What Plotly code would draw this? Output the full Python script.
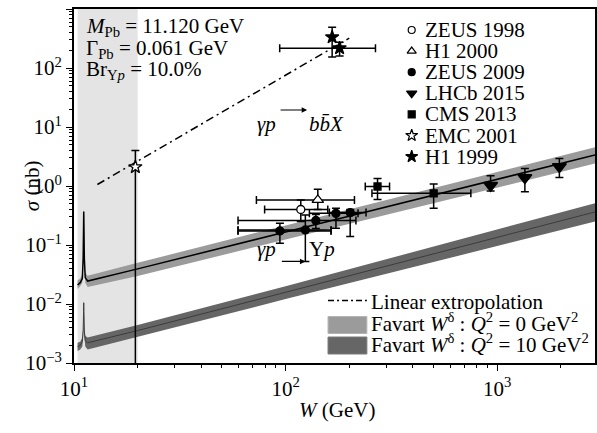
import math
import plotly.graph_objects as go

# ---------------- data ----------------
zeus1998_W = [118]
zeus1998_sigma = [0.40]
zeus1998_sigma_lo = [0.25]
zeus1998_sigma_hi = [0.58]
zeus1998_W_lo = [79.6]
zeus1998_W_hi = [158.3]

h1_2000_W = [142]
h1_2000_sigma = [0.58]
h1_2000_sigma_lo = [0.40]
h1_2000_sigma_hi = [0.88]
h1_2000_W_lo = [72.8]
h1_2000_W_hi = [211.6]

zeus2009_W = [94, 124, 139, 173, 202]
zeus2009_sigma = [0.173, 0.18, 0.26, 0.344, 0.354]
zeus2009_sigma_lo = [0.107, 0.0526, 0.19, 0.193, 0.139]
zeus2009_sigma_hi = [0.234, 0.322, 0.33, 0.42, 0.40]
zeus2009_W_lo = [59.6, 59.6, 59.6, 129.6, 161]
zeus2009_W_hi = [164, 164, 215, 220, 240]

lhcb2015_W = [931, 1352, 1968]
lhcb2015_sigma = [1.02, 1.38, 2.12]
lhcb2015_sigma_lo = [0.82, 0.80, 1.40]
lhcb2015_sigma_hi = [1.49, 1.98, 2.92]

cms2013_W = [272, 501]
cms2013_sigma = [0.98, 0.75]
cms2013_sigma_lo = [0.59, 0.42]
cms2013_sigma_hi = [1.34, 1.08]
cms2013_W_lo = [238, 256]
cms2013_W_hi = [310, 751]

emc2001_W = [19.5]
emc2001_sigma = [2.1]
emc2001_sigma_lo = [0.0001]
emc2001_sigma_hi = [4.0]

h1_1999a_W = [166]
h1_1999a_sigma = [333]
h1_1999a_sigma_lo = [153]
h1_1999a_sigma_hi = [491]

h1_1999b_W = [180]
h1_1999b_sigma = [217]
h1_1999b_sigma_lo = [159]
h1_1999b_sigma_hi = [274]
h1_1999b_W_lo = [93.8]
h1_1999b_W_hi = [266]

extrap_W = [12.9, 200]
extrap_sigma = [1.06, 320]

# Favart W^delta curves (incl. P_b resonance near threshold)
curve_W = [10.4, 10.7, 10.95, 11.05, 11.10, 11.12, 11.14, 11.19, 11.3, 11.6, 20, 100, 2900]
q0_center = [0.021, 0.023, 0.027, 0.06, 0.22, 0.37, 0.22, 0.06, 0.028, 0.0245, 0.0394, 0.166, 3.36]
q0_upper = [0.025, 0.027, 0.032, 0.07, 0.26, 0.43, 0.26, 0.07, 0.034, 0.030, 0.050, 0.215, 4.55]
q0_lower = [0.018, 0.020, 0.023, 0.05, 0.18, 0.31, 0.18, 0.05, 0.023, 0.0195, 0.0298, 0.124, 2.40]

q10_center = [0.0019, 0.0020, 0.0023, 0.0035, 0.0075, 0.0105, 0.0075, 0.0035, 0.0024, 0.0022, 0.00355, 0.0158, 0.363]
q10_upper = [0.0022, 0.0023, 0.0027, 0.0041, 0.0085, 0.0120, 0.0085, 0.0041, 0.0029, 0.0027, 0.0044, 0.0200, 0.51]
q10_lower = [0.0016, 0.0017, 0.0019, 0.0029, 0.0065, 0.0090, 0.0065, 0.0029, 0.0019, 0.0017, 0.0028, 0.0121, 0.25]

shade_W = [10.4, 20.0]

y_ticks = [1e-3, 1e-2, 1e-1, 1e0, 1e1, 1e2, 1e3]
y_ticktext = ["10<sup>\u22123</sup>", "10<sup>\u22122</sup>", "10<sup>\u22121</sup>", "10<sup>0</sup>",
              "10<sup>1</sup>", "10<sup>2</sup>", "10<sup>3</sup>"]
x_ticks = [10, 100, 1000]
x_ticktext = ["10<sup>1</sup>", "10<sup>2</sup>", "10<sup>3</sup>"]

legend_names = ["ZEUS 1998", "H1 2000", "ZEUS 2009", "LHCb 2015", "CMS 2013", "EMC 2001", "H1 1999"]

# ---------------- layout geometry ----------------
FIG_W, FIG_H = 597, 433
L, R, T, B = 74, 597, 9, 363
FONT = "Liberation Serif"


def px(x):
    return (x - L) / (R - L)


def py(y):
    return (B - y) / (B - T)


def errs(v, lo, hi):
    return [h - a for a, h in zip(v, hi)], [a - l for a, l in zip(v, lo)]


fig = go.Figure()

# shaded threshold region
fig.add_trace(go.Scatter(
    x=[shade_W[0], shade_W[1], shade_W[1], shade_W[0], shade_W[0]],
    y=[1e-3, 1e-3, 1e3, 1e3, 1e-3], mode="lines", fill="toself",
    fillcolor="#e4e4e4", line=dict(width=0), hoverinfo="skip", showlegend=False))

# bands
for up, lo, cen, fcol, lcol, lw in [
    (q10_upper, q10_lower, q10_center, "#666666", "#3c3c3c", 1.0),
    (q0_upper, q0_lower, q0_center, "#9b9b9b", "#000000", 1.5),
]:
    fig.add_trace(go.Scatter(x=curve_W, y=up, mode="lines", line=dict(width=0),
                             showlegend=False, hoverinfo="skip"))
    fig.add_trace(go.Scatter(x=curve_W, y=lo, mode="lines", line=dict(width=0),
                             fill="tonexty", fillcolor=fcol, showlegend=False, hoverinfo="skip"))
    fig.add_trace(go.Scatter(x=curve_W, y=cen, mode="lines", line=dict(width=lw, color=lcol),
                             showlegend=False, hoverinfo="skip"))

# linear extrapolation
fig.add_trace(go.Scatter(x=extrap_W, y=extrap_sigma, mode="lines",
                         line=dict(color="black", width=1.5, dash="8px,4px,2px,4px"),
                         showlegend=False))

EB = dict(color="black", thickness=1.5, width=4)


def add_points(W, s, slo, shi, symbol, size, fill="black", Wlo=None, Whi=None):
    ep, em = errs(s, slo, shi)
    kw = {}
    if Wlo is not None:
        xp, xm = errs(W, Wlo, Whi)
        kw["error_x"] = dict(type="data", symmetric=False, array=xp, arrayminus=xm, **EB)
    fig.add_trace(go.Scatter(
        x=W, y=s, mode="markers",
        marker=dict(symbol=symbol, size=size, color=fill, line=dict(color="black", width=1.3)),
        error_y=dict(type="data", symmetric=False, array=ep, arrayminus=em, **EB),
        showlegend=False, **kw))


add_points(zeus2009_W, zeus2009_sigma, zeus2009_sigma_lo, zeus2009_sigma_hi, "circle", 8,
           Wlo=zeus2009_W_lo, Whi=zeus2009_W_hi)
add_points(h1_2000_W, h1_2000_sigma, h1_2000_sigma_lo, h1_2000_sigma_hi, "triangle-up", 10, "white",
           h1_2000_W_lo, h1_2000_W_hi)
add_points(zeus1998_W, zeus1998_sigma, zeus1998_sigma_lo, zeus1998_sigma_hi, "circle", 8, "white",
           zeus1998_W_lo, zeus1998_W_hi)
add_points(cms2013_W, cms2013_sigma, cms2013_sigma_lo, cms2013_sigma_hi, "square", 7,
           Wlo=cms2013_W_lo, Whi=cms2013_W_hi)
add_points(lhcb2015_W, lhcb2015_sigma, lhcb2015_sigma_lo, lhcb2015_sigma_hi, "triangle-down", 12)
add_points(emc2001_W, emc2001_sigma, emc2001_sigma_lo, emc2001_sigma_hi, "star", 10, "white")
add_points(h1_1999b_W, h1_1999b_sigma, h1_1999b_sigma_lo, h1_1999b_sigma_hi, "star", 10,
           Wlo=h1_1999b_W_lo, Whi=h1_1999b_W_hi)
add_points(h1_1999a_W, h1_1999a_sigma, h1_1999a_sigma_lo, h1_1999a_sigma_hi, "star", 10)

# ---------------- custom legend (top right) ----------------
leg_syms = ["circle", "triangle-up", "circle", "triangle-down", "square", "star", "star"]
leg_fill = ["white", "white", "black", "black", "black", "white", "black"]
leg_size = [7, 8, 7, 9, 7, 9, 9]
leg_y = [30 + 21.1 * i for i in range(len(legend_names))]
for sym, fc, sz, yy in zip(leg_syms, leg_fill, leg_size, leg_y):
    fig.add_trace(go.Scatter(x=[px(413)], y=[py(yy)], xaxis="x2", yaxis="y2", mode="markers",
                             marker=dict(symbol=sym, size=sz, color=fc, line=dict(color="black", width=1.2)),
                             showlegend=False, hoverinfo="skip"))

annotations = []
for name, yy in zip(legend_names, leg_y):
    annotations.append(dict(x=px(424), y=py(yy), xref="paper", yref="paper", text=name,
                            showarrow=False, xanchor="left", yanchor="middle",
                            font=dict(size=21, family=FONT, color="black")))

# parameter block
for txt, yy in [("<i>M</i><sub>Pb</sub> = 11.120 GeV", 27),
                ("\u0393<sub>Pb</sub> = 0.061 GeV", 48.5),
                ("Br<sub>\u03a5<i>p</i></sub> = 10.0%", 70)]:
    annotations.append(dict(x=px(84), y=py(yy), xref="paper", yref="paper", text=txt,
                            showarrow=False, xanchor="left", yanchor="middle",
                            font=dict(size=21, family=FONT, color="black")))

# bottom legend
bl = [("Linear extropolation", 301.5),
      ("Favart <i>W</i><sup>\u03b4</sup> : <i>Q</i><sup>2</sup> = 0 GeV<sup>2</sup>", 322.5),
      ("Favart <i>W</i><sup>\u03b4</sup> : <i>Q</i><sup>2</sup> = 10 GeV<sup>2</sup>", 343.5)]
for txt, yy in bl:
    annotations.append(dict(x=px(370), y=py(yy), xref="paper", yref="paper", text=txt,
                            showarrow=False, xanchor="left", yanchor="middle",
                            font=dict(size=21, family=FONT, color="black")))

shapes = [
    dict(type="line", xref="paper", yref="paper", x0=px(329), x1=px(368), y0=py(300.5), y1=py(300.5),
         line=dict(color="black", width=1.3, dash="6px,3px,2px,3px")),
    dict(type="rect", xref="paper", yref="paper", x0=px(329), x1=px(368), y0=py(333.5), y1=py(316.5),
         fillcolor="#9b9b9b", line=dict(color="#b5b5b5", width=1)),
    dict(type="rect", xref="paper", yref="paper", x0=px(329), x1=px(368), y0=py(354), y1=py(337),
         fillcolor="#666666", line=dict(color="#7a7a7a", width=1)),
]

# process labels
annotations += [
    dict(x=px(267.5), y=py(110), xref="paper", yref="paper", text="<i>\u03b3p</i>", showarrow=False,
         font=dict(size=21, family=FONT, color="black")),
    dict(x=px(308), y=py(110), xref="paper", yref="paper", ax=-28, ay=0, text="", showarrow=True,
         arrowhead=2, arrowsize=0.9, arrowwidth=1.2, arrowcolor="black"),
    dict(x=px(327.5), y=py(110), xref="paper", yref="paper", text="<i>b</i><i>b\u0304</i><i>X</i>",
         showarrow=False, font=dict(size=21, family=FONT, color="black")),
    dict(x=px(267.5), y=py(263), xref="paper", yref="paper", text="<i>\u03b3p</i>", showarrow=False,
         font=dict(size=21, family=FONT, color="black")),
    dict(x=math.log10(zeus2009_W[1]), y=math.log10(zeus2009_sigma_lo[1]), xref="x", yref="y",
         ax=-25, ay=0, text="", showarrow=True, arrowhead=2, arrowsize=0.9, arrowwidth=1.2,
         arrowcolor="black"),
    dict(x=px(322.5), y=py(263), xref="paper", yref="paper", text="\u03a5<i>p</i>", showarrow=False,
         font=dict(size=21, family=FONT, color="black")),
    # axis titles
    dict(x=px(18), y=py(186), xref="paper", yref="paper", text="<i>\u03c3</i> (nb)", textangle=-90,
         showarrow=False, font=dict(size=21, family=FONT, color="black")),
    dict(x=px(338), y=py(424), xref="paper", yref="paper", text="<i>W</i> (GeV)",
         showarrow=False, font=dict(size=21, family=FONT, color="black")),
]

minor_x = [m * 10 ** e for e in (1, 2, 3) for m in range(2, 10)]
minor_y = [m * 10 ** e for e in range(-3, 3) for m in range(2, 10)]

fig.update_layout(
    width=FIG_W, height=FIG_H,
    margin=dict(l=L, r=FIG_W - R, t=T, b=FIG_H - B),
    paper_bgcolor="white", plot_bgcolor="white",
    font=dict(family=FONT, size=21, color="black"),
    showlegend=False,
    xaxis=dict(type="log", range=[1, math.log10(2900)], showgrid=False, zeroline=False,
               showline=True, linecolor="black", linewidth=2, mirror=True,
               ticks="outside", ticklen=6, tickwidth=1.3, tickcolor="black",
               tickmode="array", tickvals=x_ticks, ticktext=x_ticktext,
               tickfont=dict(size=21, family=FONT),
               minor=dict(tickmode="array", tickvals=minor_x, ticks="outside", ticklen=3,
                          tickwidth=1.2, tickcolor="black", showgrid=False)),
    yaxis=dict(type="log", range=[-3, 3], showgrid=False, zeroline=False,
               showline=True, linecolor="black", linewidth=2, mirror=True,
               ticks="outside", ticklen=6, tickwidth=1.3, tickcolor="black",
               tickmode="array", tickvals=y_ticks, ticktext=y_ticktext,
               tickfont=dict(size=21, family=FONT),
               minor=dict(tickmode="array", tickvals=minor_y, ticks="outside", ticklen=3,
                          tickwidth=1.2, tickcolor="black", showgrid=False)),
    xaxis2=dict(overlaying="x", range=[0, 1], visible=False, fixedrange=True),
    yaxis2=dict(overlaying="y", range=[0, 1], visible=False, fixedrange=True),
    annotations=annotations,
    shapes=shapes,
)

fig.write_html("out.html")
